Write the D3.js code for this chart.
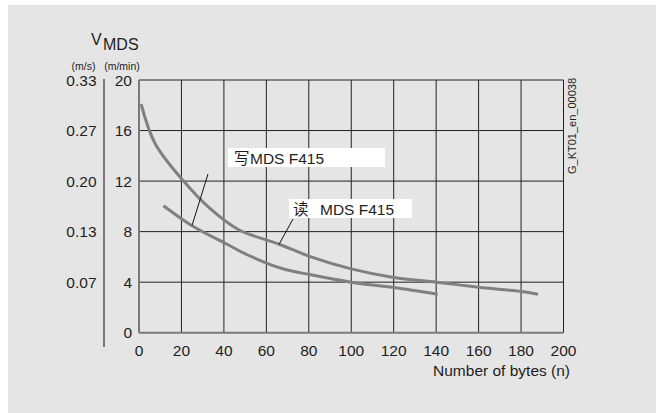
<!DOCTYPE html>
<html>
<head>
  <meta charset="utf-8">
  <style>
    body { margin: 0; background: white; }
    text { font-family: "Liberation Sans", Arial, sans-serif; fill: #1e1e1e; }
  </style>
</head>
<body>
  <script src="https://d3js.org/d3.v7.min.js"></script>
  <script>
    var width = 656, height = 413;

    // data
    var readBytes = [1, 7.5, 21, 33, 47, 66, 81, 100, 120, 140, 160, 180, 188];
    var readSpeed = [18.1, 15.0, 12.0, 9.9, 8.15, 7.0, 6.0, 5.05, 4.37, 4.0, 3.6, 3.26, 3.05];
    var writeBytes = [11.5, 25.6, 41, 51, 67, 81, 100, 120, 140.7];
    var writeSpeed = [10.05, 8.4, 7.04, 6.17, 5.1, 4.58, 4.0, 3.57, 3.05];
    var xTicks = [0, 20, 40, 60, 80, 100, 120, 140, 160, 180, 200];
    var yTicks = [0, 4, 8, 12, 16, 20];
    var msLabels = ["", "0.07", "0.13", "0.20", "0.27", "0.33"];

    var svg = d3.select("body").append("svg")
        .attr("width", width).attr("height", height);

    svg.append("rect").attr("x", 8).attr("y", 5)
        .attr("width", width - 8).attr("height", height - 5)
        .attr("fill", "#e5e5e5");

    var x = d3.scaleLinear().domain([0, 200]).range([139, 563.5]);
    var y = d3.scaleLinear().domain([0, 20]).range([332.7, 80]);

    // grid
    svg.append("g").selectAll("line").data(xTicks.slice(1)).join("line")
        .attr("x1", d => x(d)).attr("x2", d => x(d))
        .attr("y1", y(0)).attr("y2", y(20))
        .attr("stroke", "#222").attr("stroke-width", 1);
    svg.append("g").selectAll("line").data(yTicks.slice(1)).join("line")
        .attr("x1", x(0)).attr("x2", x(200))
        .attr("y1", d => y(d)).attr("y2", d => y(d))
        .attr("stroke", "#222").attr("stroke-width", 1);

    // axes lines
    svg.append("line").attr("x1", x(0)).attr("x2", x(200))
        .attr("y1", y(0)).attr("y2", y(0))
        .attr("stroke", "#7a7a7a").attr("stroke-width", 2);
    svg.append("line").attr("x1", x(0)).attr("x2", x(0))
        .attr("y1", y(0)).attr("y2", y(20))
        .attr("stroke", "#7a7a7a").attr("stroke-width", 2);
    svg.append("line").attr("x1", 104).attr("x2", 104)
        .attr("y1", 79).attr("y2", 347)
        .attr("stroke", "#7a7a7a").attr("stroke-width", 2);

    // tick labels
    svg.append("g").selectAll("text").data(xTicks).join("text")
        .attr("x", d => x(d)).attr("y", 356)
        .attr("text-anchor", "middle").attr("font-size", 15.5)
        .text(d => d);
    svg.append("g").selectAll("text").data(yTicks).join("text")
        .attr("x", 132).attr("y", d => y(d) + 5.5)
        .attr("text-anchor", "end").attr("font-size", 15.5)
        .text(d => d);
    svg.append("g").selectAll("text").data(yTicks).join("text")
        .attr("x", 96.5).attr("y", d => y(d) + 5.5)
        .attr("text-anchor", "end").attr("font-size", 15.5)
        .text((d, i) => msLabels[i]);

    // axis titles
    svg.append("text").attr("x", 91).attr("y", 45).attr("font-size", 16).text("V");
    svg.append("text").attr("x", 103).attr("y", 50).attr("font-size", 16).text("MDS");
    svg.append("text").attr("x", 83.5).attr("y", 70).attr("font-size", 10.5)
        .attr("text-anchor", "middle").text("(m/s)");
    svg.append("text").attr("x", 122).attr("y", 70).attr("font-size", 10.5)
        .attr("text-anchor", "middle").text("(m/min)");
    svg.append("text").attr("x", 570).attr("y", 376).attr("font-size", 15.5)
        .attr("text-anchor", "end").text("Number of bytes (n)");
    svg.append("text").attr("transform", "translate(576,174) rotate(-90)")
        .attr("font-size", 11).text("G_KT01_en_00038");

    // curves
    var line = d3.line().x(d => x(d[0])).y(d => y(d[1])).curve(d3.curveCatmullRom.alpha(0.5));
    svg.append("path").datum(d3.zip(readBytes, readSpeed)).attr("d", line)
        .attr("fill", "none").attr("stroke", "#808080").attr("stroke-width", 3)
        .attr("stroke-linejoin", "round");
    svg.append("path").datum(d3.zip(writeBytes, writeSpeed)).attr("d", line)
        .attr("fill", "none").attr("stroke", "#808080").attr("stroke-width", 3)
        .attr("stroke-linejoin", "round");

    // labels with pointers
    var cjk = "'Noto Sans CJK SC', 'Liberation Sans', sans-serif";
    svg.append("rect").attr("x", 228).attr("y", 148).attr("width", 157).attr("height", 19).attr("fill", "white");
    svg.append("text").attr("x", 234).attr("y", 163.5).attr("font-size", 15.5)
        .style("font-family", cjk).text("写");
    svg.append("text").attr("x", 250).attr("y", 163.5).attr("font-size", 15.5).text("MDS F415");
    svg.append("line").attr("x1", 208).attr("y1", 174).attr("x2", x(25)).attr("y2", y(8.5))
        .attr("stroke", "#111").attr("stroke-width", 1);

    svg.append("rect").attr("x", 289).attr("y", 199).attr("width", 123).attr("height", 19).attr("fill", "white");
    svg.append("text").attr("x", 293).attr("y", 214.5).attr("font-size", 15.5)
        .style("font-family", cjk).text("读");
    svg.append("text").attr("x", 320).attr("y", 214.5).attr("font-size", 15.5).text("MDS F415");
    svg.append("line").attr("x1", 293).attr("y1", 219).attr("x2", x(66)).attr("y2", y(7.0))
        .attr("stroke", "#111").attr("stroke-width", 1);
  </script>
</body>
</html>
